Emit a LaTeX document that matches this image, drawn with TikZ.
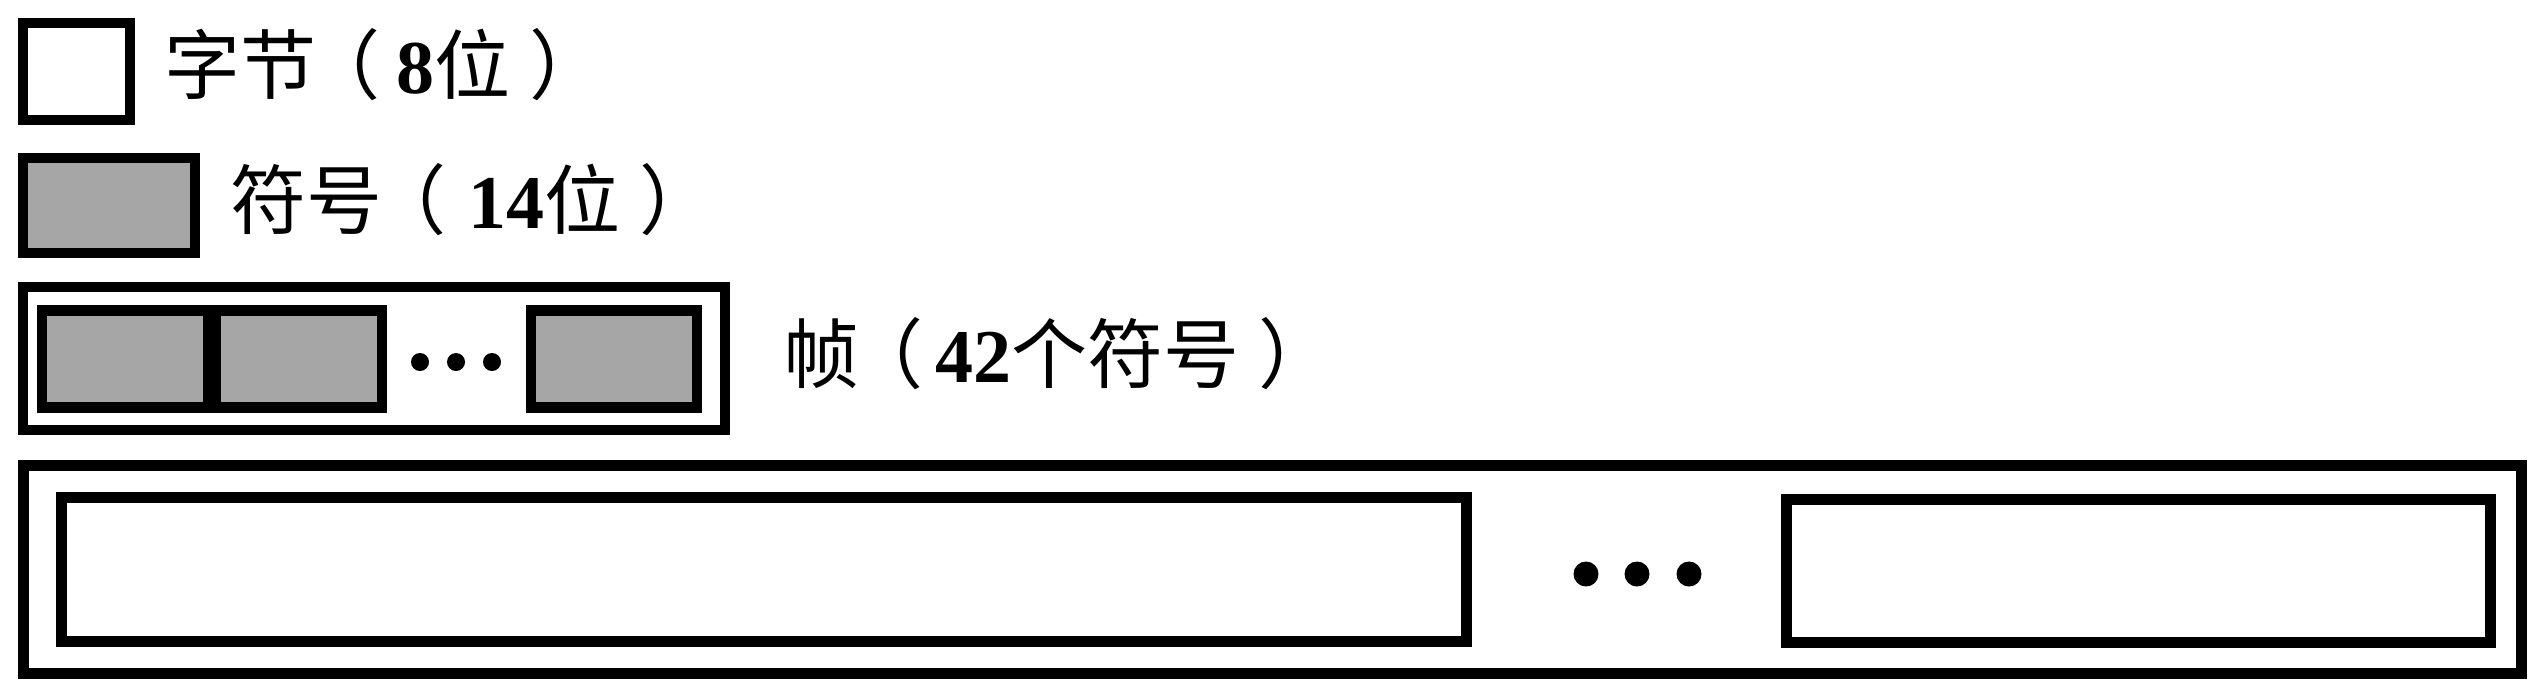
\documentclass[tikz,border=0pt]{standalone}
\usepackage{fontspec}
\setmainfont{Liberation Serif}
\newfontfamily\cjk{Noto Sans CJK SC}
\usetikzlibrary{positioning}

% fullwidth brackets nudged inside their em box
\newcommand{\lpar}{{\cjk\hspace{-0.16em}（\hspace{0.16em}}}
\newcommand{\rpar}{{\cjk\hspace{0.25em}）}}

\tikzset{
  unitbox/.style={draw, line width=2.6pt, inner sep=0pt, outer sep=0pt},
  symbox/.style={unitbox, fill=black!35},
  lbl/.style={anchor=base west, inner sep=0pt, font=\fontsize{19}{22}\selectfont},
  dotmark/.style={circle, fill, inner sep=0pt, minimum size=#1}
}

\begin{document}
\begin{tikzpicture}[x=0.25pt, y=-0.25pt]
      \useasboundingbox (0,0) rectangle (2544,699);
      \node[unitbox, minimum width=26.75pt, minimum height=24.25pt] (byte) at (76.5,71.5) {};
      \node[lbl] (bytetxt) at (164,93) {{\cjk 字节}\lpar\hspace{0.05em}\textbf{8}{\cjk 位}\rpar};
      \node[symbox, minimum width=43pt, minimum height=23.75pt] (sym) at (109,205.5) {};
      \node[lbl] (symtxt) at (230,228) {{\cjk 符号}\lpar\hspace{0.13em}\textbf{14}{\cjk 位}\rpar};
      \node[unitbox, minimum width=175.5pt, minimum height=35.75pt] (frame) at (374,358.5) {};
      \node[symbox, minimum width=41.5pt, minimum height=24.25pt] (fsymA) at (125,359) {};
      \node[symbox, minimum width=41.5pt, minimum height=24.25pt] (fsymB) at (299,359) {};
      \node[symbox, minimum width=41.5pt, minimum height=24.25pt] (fsymC) at (614,359) {};
      \node[dotmark=4.5pt] (fdotA) at (420,362) {};
      \node[dotmark=4.5pt] (fdotB) at (456,362) {};
      \node[dotmark=4.5pt] (fdotC) at (492,362) {};
      \node[lbl] (frametxt) at (783,382) {{\cjk 帧}\lpar\textbf{42}{\cjk 个符号}\rpar};
      \node[unitbox, minimum width=624.5pt, minimum height=52pt] (seq) at (1272.5,569.5) {};
      \node[unitbox, minimum width=351.25pt, minimum height=36pt] (seqA) at (764,569.5) {};
      \node[unitbox, minimum width=176pt, minimum height=35.75pt] (seqB) at (2138.5,571) {};
      \node[dotmark=6.25pt] (sdotA) at (1586,574) {};
      \node[dotmark=6.25pt] (sdotB) at (1637,574) {};
      \node[dotmark=6.25pt] (sdotC) at (1689,574) {};
\end{tikzpicture}
\end{document}
